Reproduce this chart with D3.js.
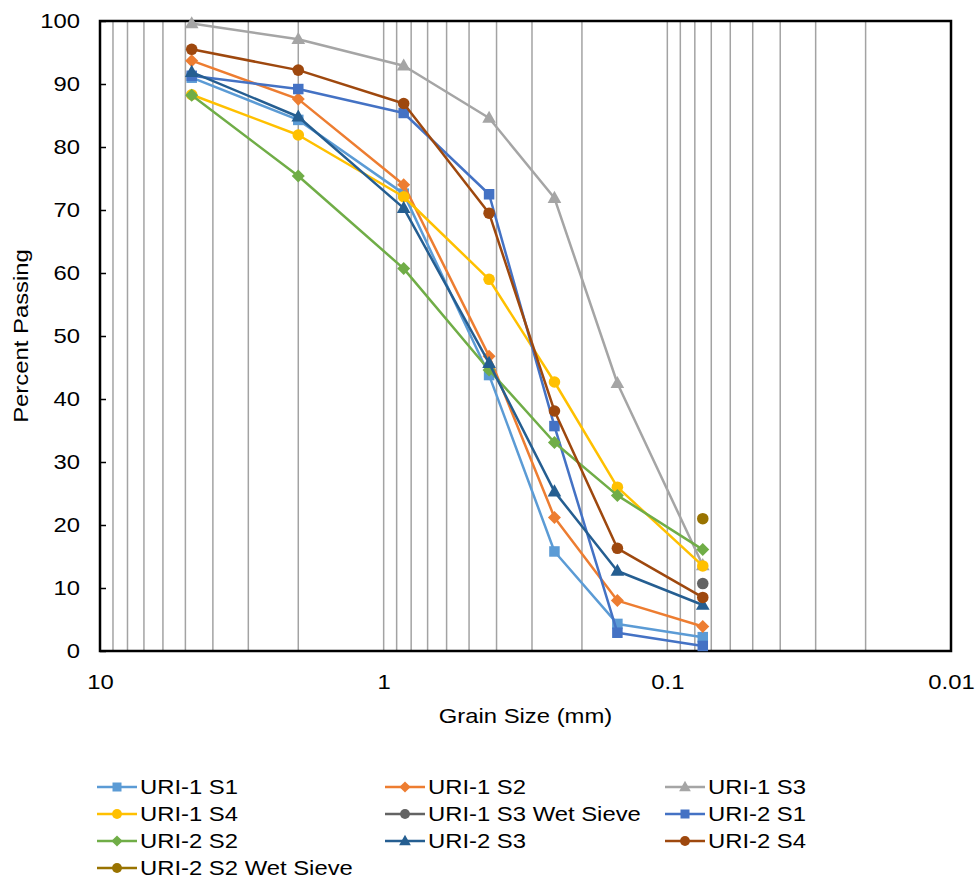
<!DOCTYPE html>
<html>
<head>
<meta charset="utf-8">
<script src="https://cdn.jsdelivr.net/npm/d3@7"></script>
<style>
  html, body { margin: 0; padding: 0; background: #fff; }
  svg { display: block; font-family: "Liberation Sans", Arial, sans-serif; }
</style>
</head>
<body>
<svg id="chart" width="977" height="883"></svg>
<script>
// ---- Data ----
const grainSizes = [4.75, 2.0, 0.85, 0.425, 0.25, 0.15, 0.075];
const wetSieveSize = [0.075];

const seriesNames = [
  "URI-1 S1", "URI-1 S2", "URI-1 S3", "URI-1 S4", "URI-1 S3 Wet Sieve",
  "URI-2 S1", "URI-2 S2", "URI-2 S3", "URI-2 S4", "URI-2 S2 Wet Sieve"
];
const uri1S1 = [91.0, 84.3, 72.6, 43.8, 15.8, 4.3, 2.2];
const uri1S2 = [93.7, 87.6, 74.0, 46.8, 21.2, 8.0, 3.9];
const uri1S3 = [99.6, 97.1, 92.9, 84.6, 71.9, 42.5, 13.6];
const uri1S4 = [88.3, 81.9, 72.1, 59.0, 42.7, 26.0, 13.5];
const uri1S3Wet = [10.7];
const uri2S1 = [91.3, 89.2, 85.4, 72.5, 35.7, 2.9, 0.8];
const uri2S2 = [88.2, 75.4, 60.7, 44.6, 33.1, 24.7, 16.1];
const uri2S3 = [91.9, 84.8, 70.3, 45.7, 25.3, 12.7, 7.3];
const uri2S4 = [95.5, 92.2, 86.9, 69.5, 38.1, 16.3, 8.5];
const uri2S2Wet = [21.0];

const yTicks = [0, 10, 20, 30, 40, 50, 60, 70, 80, 90, 100];
const xTicks = [10, 1, 0.1, 0.01];
const xTickLabels = ["10", "1", "0.1", "0.01"];

const colors = ["#5B9BD5", "#ED7D31", "#A5A5A5", "#FFC000", "#636363",
                "#4472C4", "#70AD47", "#255E91", "#9E480E", "#997300"];
const markers = ["square", "diamond", "triangle", "circle", "circle",
                 "square", "diamond", "triangle", "circle", "circle"];
const seriesValues = [uri1S1, uri1S2, uri1S3, uri1S4, uri1S3Wet,
                      uri2S1, uri2S2, uri2S3, uri2S4, uri2S2Wet];
const seriesX = [grainSizes, grainSizes, grainSizes, grainSizes, wetSieveSize,
                 grainSizes, grainSizes, grainSizes, grainSizes, wetSieveSize];

// ---- Layout ----
const svg = d3.select("#chart");
const L = 100, R = 951, T = 21, B = 651;
const FS = 21;
const x = d3.scaleLog().domain([10, 0.01]).range([L, R]);
const y = d3.scaleLinear().domain([0, 100]).range([B, T]);

// vertical gridlines (log minor + major)
const gridVals = [];
[0.01, 0.1, 1].forEach(d => { for (let k = 1; k <= 9; k++) gridVals.push(k * d); });
svg.append("g").selectAll("line").data(gridVals.filter(v => v > 0.0100001 && v < 9.99999))
  .join("line")
  .attr("x1", d => x(d)).attr("x2", d => x(d))
  .attr("y1", T).attr("y2", B)
  .attr("stroke", "#a3a3a3").attr("stroke-width", 1.5);

// axes
const yAxis = d3.axisLeft(y).tickValues(yTicks).tickSizeInner(-6).tickSizeOuter(0).tickPadding(20);
const gy = svg.append("g").attr("transform", `translate(${L},0)`).call(yAxis);
gy.select(".domain").remove();
gy.selectAll(".tick line").attr("stroke", "#000").attr("stroke-width", 1.5);
gy.selectAll("text").attr("font-size", FS).attr("fill", "#000");

const xAxis = d3.axisBottom(x).tickValues(xTicks).tickSize(0).tickPadding(23)
  .tickFormat((d, i) => xTickLabels[i]);
const gx = svg.append("g").attr("transform", `translate(0,${B})`).call(xAxis);
gx.select(".domain").remove();
gx.selectAll("text").attr("font-size", FS).attr("fill", "#000");

// frame
svg.append("rect").attr("x", L).attr("y", T).attr("width", R - L).attr("height", B - T)
  .attr("fill", "none").attr("stroke", "#000").attr("stroke-width", 2.5);

// axis titles
svg.append("text").attr("x", (L + R) / 2).attr("y", 723).attr("text-anchor", "middle")
  .attr("font-size", FS).attr("fill", "#000").text("Grain Size (mm)");
svg.append("text").attr("transform", `translate(28,${(T + B) / 2}) rotate(-90)`)
  .attr("text-anchor", "middle").attr("font-size", FS).attr("fill", "#000").text("Percent Passing");

// markers
function drawMarker(g, type, cx, cy, color, s) {
  if (type === "square") {
    g.append("rect").attr("x", cx - s * 0.5).attr("y", cy - s * 0.5)
      .attr("width", s).attr("height", s).attr("fill", color);
  } else if (type === "diamond") {
    const r = s * 0.62;
    g.append("path").attr("d", `M${cx},${cy - r}L${cx + r},${cy}L${cx},${cy + r}L${cx - r},${cy}Z`)
      .attr("fill", color);
  } else if (type === "triangle") {
    const h = s * 1.05;
    g.append("path").attr("d", `M${cx},${cy - h * 0.66}L${cx + h * 0.62},${cy + h * 0.44}L${cx - h * 0.62},${cy + h * 0.44}Z`)
      .attr("fill", color);
  } else {
    g.append("circle").attr("cx", cx).attr("cy", cy).attr("r", s * 0.55).attr("fill", color);
  }
}

const line = d3.line().x(d => x(d[0])).y(d => y(d[1]));
seriesValues.forEach((vals, i) => {
  const pts = vals.map((v, j) => [seriesX[i][j], v]);
  const g = svg.append("g");
  if (pts.length > 1) {
    g.append("path").datum(pts).attr("d", line).attr("fill", "none")
      .attr("stroke", colors[i]).attr("stroke-width", 2.5).attr("stroke-linejoin", "round");
  }
  pts.forEach(p => drawMarker(g, markers[i], x(p[0]), y(p[1]), colors[i], 10.5));
});

// legend
const legCols = [97, 385, 665];
const legRows = [787, 814, 841, 868];
seriesNames.forEach((name, i) => {
  const cx = legCols[i % 3], cy = legRows[Math.floor(i / 3)];
  const g = svg.append("g");
  g.append("line").attr("x1", cx).attr("x2", cx + 40).attr("y1", cy).attr("y2", cy)
    .attr("stroke", colors[i]).attr("stroke-width", 2.5);
  drawMarker(g, markers[i], cx + 20, cy, colors[i], 9);
  g.append("text").attr("x", cx + 43).attr("y", cy).attr("dy", "0.35em")
    .attr("font-size", FS).attr("fill", "#000").text(name);
});

// widen glyphs horizontally to match the reference's wide text rendering
svg.selectAll("text").each(function () {
  const len = this.getComputedTextLength();
  if (len > 0) {
    d3.select(this).attr("textLength", len * 1.135).attr("lengthAdjust", "spacingAndGlyphs");
  }
});
</script>
</body>
</html>
